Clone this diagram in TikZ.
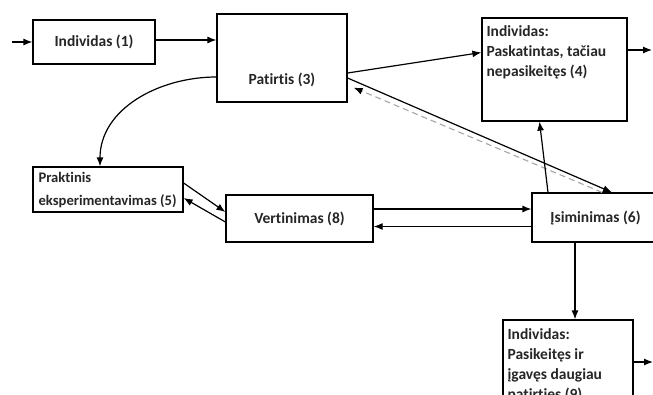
\documentclass[tikz,border=0pt]{standalone}
\usepackage{fontspec}
\setmainfont[Ligatures=NoCommon]{Carlito}
\usetikzlibrary{arrows.meta}
\begin{document}
\begin{tikzpicture}[x=1pt,y=-1pt,
  every node/.style={font=\bfseries\fontsize{15.5}{20}\selectfont, text=black!85},
  box/.style={draw, line width=1.2pt, inner sep=0pt},
  tl/.style={anchor=north west, inner sep=0pt, align=left, xshift=5pt, yshift=-8pt},
  link/.style={line width=1.2pt, -{Latex[length=9pt,width=7pt]}},
  faint/.style={line width=1.1pt, draw=black!35, dash pattern=on 6pt off 4pt,
    -{Latex[length=9pt,width=7pt,color=black]}}]
\clip (0,0) rectangle (653,394);
\fill[white] (0,0) rectangle (653,394);

% boxes
\node[box, minimum width=122pt, minimum height=44pt] (n1) at (94,42) {Individas (1)};
\node[box, minimum width=130pt, minimum height=88pt,
  label={[yshift=-22pt]center:Patirtis (3)}] (n3) at (282,58) {};
\node[box, minimum width=145pt, minimum height=103pt,
  label={[tl]north west:Individas:\\Paskatintas, tačiau\\nepasikeitęs (4)}] (n4) at (554.5,69.5) {};
\node[box, minimum width=150pt, minimum height=45pt,
  label={[tl, xshift=1pt, yshift=2pt, font=\bfseries\fontsize{14.6}{20}\selectfont]north west:Praktinis\\[3pt]eksperimentavimas (5)}] (n5) at (108,189.5) {};
\node[box, minimum width=147pt, minimum height=47pt] (n8) at (299.5,218.5) {Vertinimas (8)};
\node[box, minimum width=128pt, minimum height=49pt] (n6) at (596,217.5) {\hspace*{-1pt}Įsiminimas (6)};
\node[box, minimum width=130pt, minimum height=90pt,
  label={[tl, yshift=-1pt]north west:Individas:\\Pasikeitęs ir\\įgavęs daugiau\\patirties (9)}] (n9) at (568,365) {};

% free ends
\coordinate (in0) at (12,42);
\coordinate (out4) at (652,50);
\coordinate (out9) at (653,362);

% connectors
\draw[link] (in0) -- (n1.west);
\draw[link] ([yshift=2pt]n1.east) -- ([yshift=2pt]n1.east -| n3.west);
\draw[link] ([yshift=-15pt]n3.east) -- ([yshift=17pt]n4.west);
\draw[link] ([yshift=-20pt]n3.east) -- ([xshift=16pt]n6.north);
\draw[faint] ([xshift=6pt]n6.north) -- ([xshift=6pt,yshift=15pt]n3.south east);
\draw[link] ([xshift=-48pt]n6.north) -- ([xshift=-15pt]n4.south);
\draw[link] ([xshift=-21pt]n6.south) -- ([xshift=-21pt]n6.south |- n9.north);
\draw[link] ([yshift=9.5pt]n8.east) -- ([yshift=9.5pt]n8.east -| n6.west);
\draw[link] ([yshift=-9pt]n6.west) -- ([yshift=-9pt]n6.west -| n8.east);
\draw[link] ([yshift=6.5pt]n5.east) -- ([yshift=6.5pt]n8.west);
\draw[link] ([yshift=-3.5pt]n8.west) -- ([yshift=-8.5pt]n5.east);
\draw[link] ([yshift=-19pt]n3.west) to[out=180,in=90] ([xshift=-8pt]n5.north);
\draw[link] ([yshift=19.5pt]n4.east) -- (out4);
\draw[link] ([yshift=3pt]n9.east) -- (out9);
\end{tikzpicture}
\end{document}
